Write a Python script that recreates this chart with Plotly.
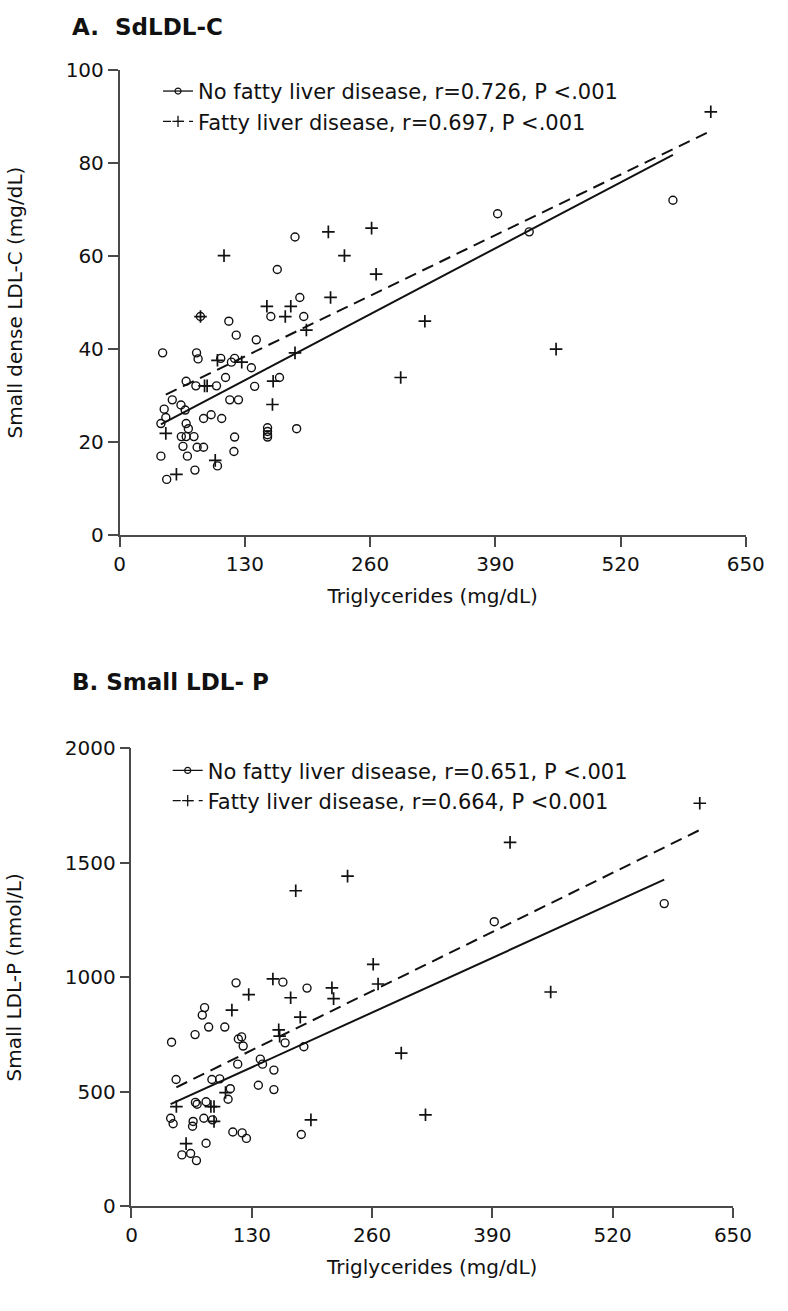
import plotly.graph_objects as go

# ---- data ----
tick_tg = [0, 130, 260, 390, 520, 650]
tick_sd = [0, 20, 40, 60, 80, 100]
tick_sp = [0, 500, 1000, 1500, 2000]

# A. SdLDL-C, no fatty liver disease (circles)
tg_a_no = [44.7, 79.9, 81.5, 105, 119.4, 116.1, 136.8, 69.1, 79.2, 100.6, 110, 140.2, 166,
           54.7, 63.7, 68.1, 46.3, 48, 42.9, 69.1, 71.4, 95, 87.2, 106, 114.4, 123.4,
           69.1, 64.1, 77.2, 65.8, 80.5, 87.2, 119.4, 42.9, 70.4, 118.7, 78.2, 101.6, 48.9,
           153.6, 153.6, 153.6, 153.6, 183.8, 182.1, 163.7, 187.1, 157, 191.2, 83.9, 113.4,
           121.1, 141.9, 392.4, 425.2, 574.4]
sd_a_no = [39.2, 39.2, 37.9, 38, 38, 37.2, 36, 33.1, 32.1, 32.1, 33.9, 32, 33.9,
           29.1, 28, 26.9, 27.1, 25.3, 24, 24, 22.9, 25.9, 25.1, 25.1, 29.1, 29.1,
           21.2, 21.2, 21.2, 19.1, 18.9, 18.9, 21.1, 17, 17, 18, 14, 14.9, 12,
           23.1, 22.3, 21.6, 21.1, 22.9, 64.1, 57.1, 51.1, 47, 47, 47, 46,
           43, 42, 69.1, 65.2, 72]

# A. SdLDL-C, fatty liver disease (crosses)
tg_a_fl = [182.1, 159.4, 158.7, 48, 88.2, 90.9, 99.3, 59, 101.6, 126.8, 216.7, 108.4, 233.4,
           219, 152.9, 177.7, 172, 193.9, 84, 613.7, 261.6, 266.3, 316.9, 291.8, 453.1]
sd_a_fl = [39.2, 33.1, 28.1, 21.9, 32.1, 32.1, 16.1, 13.1, 37.6, 37.2, 65.2, 60.1, 60.1,
           51.1, 49.2, 49.2, 47, 44.1, 47, 91, 66, 56.1, 46, 33.9, 40]

# B. Small LDL-P, no fatty liver disease (circles)
tg_b_no = [43.3, 48.2, 68.7, 76.5, 79, 83.4, 100.8, 113, 115.5, 119, 120.7, 163.6, 189.7, 166,
           186.3, 114.8, 139.2, 141.6, 153.9, 86.9, 95.3, 106.8, 104.4, 137.1, 153.9, 69.1,
           70.9, 80.6, 42.3, 45, 66.6, 66, 78.2, 87.6, 109.5, 119.6, 124.2, 80.6, 183.5,
           54.5, 63.9, 70.2, 392, 575.7]
sp_b_no = [717, 554, 750, 835, 868, 783, 783, 976, 731, 740, 700, 979, 953, 714,
           697, 621, 643, 621, 595, 554, 557, 514, 468, 529, 510, 454,
           446, 457, 385, 361, 371, 350, 385, 378, 325, 321, 297, 276, 314,
           225, 231, 200, 1243, 1322]

# B. Small LDL-P, fatty liver disease (crosses)
tg_b_fl = [177.5, 152.8, 126.7, 108.5, 172, 216.6, 218.4, 182.4, 159.1, 160.1, 261.2, 266.5,
           48.5, 85.8, 89.2, 89.2, 101.6, 59, 193.9, 614.1, 409.1, 453, 291.5, 317.7, 233.5]
sp_b_fl = [1378, 993, 925, 857, 911, 954, 907, 826, 771, 743, 1057, 971,
           436, 436, 436, 371, 497, 274, 378, 1760, 1589, 936, 669, 400, 1442]

# regression lines (intercept, slope) read from the plotted fits
fit_a_no = (19.15, 0.109)
fit_a_fl = (25.4, 0.1002)
fit_b_no = (368.6, 1.8375)
fit_b_fl = (423.7, 1.986)

leg_a = ["No fatty liver disease, r=0.726, P <.001", "Fatty liver disease, r=0.697, P <.001"]
leg_b = ["No fatty liver disease, r=0.651, P <.001", "Fatty liver disease, r=0.664, P <0.001"]

W, H = 788, 1311
FONT = "DejaVu Sans"
INK = "#111111"
AXC = "#4a4a4a"


def fit_line(xs, fit):
    x0, x1 = min(xs), max(xs)
    return [x0, x1], [fit[0] + fit[1] * x0, fit[0] + fit[1] * x1]


circle = dict(symbol="circle-open", size=8, color=INK, line=dict(width=1.4, color=INK))
cross = dict(symbol="cross-thin-open", size=9, color=INK, line=dict(width=1.7, color=INK))
solid = dict(color=INK, width=2)
dashed = dict(color=INK, width=2, dash="12px,7px")

fig = go.Figure()


def add_panel(xa, ya, legend, tg_no, v_no, fit_no, tg_fl, v_fl, fit_fl, labels):
    # points
    fig.add_trace(go.Scatter(x=tg_no, y=v_no, mode="markers", marker=circle,
                             xaxis=xa, yaxis=ya, showlegend=False))
    fig.add_trace(go.Scatter(x=tg_fl, y=v_fl, mode="markers", marker=cross,
                             xaxis=xa, yaxis=ya, showlegend=False))
    # fitted lines
    lx, ly = fit_line(tg_no, fit_no)
    fig.add_trace(go.Scatter(x=lx, y=ly, mode="lines", line=solid,
                             xaxis=xa, yaxis=ya, showlegend=False))
    lx, ly = fit_line(tg_fl, fit_fl)
    fig.add_trace(go.Scatter(x=lx, y=ly, mode="lines", line=dashed,
                             xaxis=xa, yaxis=ya, showlegend=False))
    # legend entries (line + marker)
    fig.add_trace(go.Scatter(x=[None], y=[None], mode="lines+markers", name=labels[0],
                             line=dict(color=INK, width=1.3),
                             marker=dict(symbol="circle-open", size=6, color=INK,
                                         line=dict(width=1.2, color=INK)),
                             xaxis=xa, yaxis=ya, legend=legend))
    fig.add_trace(go.Scatter(x=[None], y=[None], mode="lines+markers", name=labels[1],
                             line=dict(color=INK, width=1.3, dash="8px,5px"),
                             marker=dict(symbol="cross-thin-open", size=8, color=INK,
                                         line=dict(width=1.3, color=INK)),
                             xaxis=xa, yaxis=ya, legend=legend))


add_panel("x", "y", "legend", tg_a_no, sd_a_no, fit_a_no, tg_a_fl, sd_a_fl, fit_a_fl, leg_a)
add_panel("x2", "y2", "legend2", tg_b_no, sp_b_no, fit_b_no, tg_b_fl, sp_b_fl, fit_b_fl, leg_b)


def px_x(p):
    return p / W


def px_y(p):
    return (H - p) / H


axis_common = dict(showline=True, linecolor=AXC, linewidth=1.5, ticks="outside",
                   ticklen=10, tickwidth=1.5, tickcolor=AXC, showgrid=False,
                   zeroline=False, tickfont=dict(family=FONT, size=20, color=INK),
                   title_font=dict(family=FONT, size=20, color=INK))

fig.update_layout(
    width=W, height=H,
    margin=dict(l=0, r=0, t=0, b=0),
    paper_bgcolor="white", plot_bgcolor="white",
    font=dict(family=FONT, color=INK),
    xaxis=dict(axis_common, domain=[px_x(117.3), px_x(764)], range=[0, 650],
               tickvals=tick_tg, anchor="y",
               title=dict(text="Triglycerides (mg/dL)", standoff=14)),
    yaxis=dict(axis_common, domain=[px_y(533), px_y(59)], range=[0, 100],
               tickvals=tick_sd, anchor="x",
               title=dict(text="Small dense LDL-C (mg/dL)", standoff=38)),
    xaxis2=dict(axis_common, domain=[px_x(129.6), px_x(750.8)], range=[0, 650],
                tickvals=tick_tg, anchor="y2",
                title=dict(text="Triglycerides (mg/dL)", standoff=14)),
    yaxis2=dict(axis_common, domain=[px_y(1216.7), px_y(750)], range=[0, 2000],
                tickvals=tick_sp, anchor="x2",
                title=dict(text="Small LDL-P (nmol/L)", standoff=38)),
    legend=dict(x=px_x(157), y=px_y(60), xanchor="left", yanchor="top",
                font=dict(family=FONT, size=21, color=INK), bgcolor="rgba(0,0,0,0)",
                tracegroupgap=0, itemwidth=30),
    legend2=dict(x=px_x(167), y=px_y(752), xanchor="left", yanchor="top",
                 font=dict(family=FONT, size=21, color=INK), bgcolor="rgba(0,0,0,0)",
                 tracegroupgap=0, itemwidth=30),
    annotations=[
        dict(text="<b>A.\u00a0 SdLDL-C</b>", x=px_x(66), y=px_y(15), xref="paper", yref="paper",
             xanchor="left", yanchor="middle", showarrow=False,
             font=dict(family=FONT, size=23, color=INK)),
        dict(text="<b>B. Small LDL- P</b>", x=px_x(66), y=px_y(683), xref="paper", yref="paper",
             xanchor="left", yanchor="middle", showarrow=False,
             font=dict(family=FONT, size=23, color=INK)),
    ],
)

# page body has an 8px default margin; drop it so the figure sits at the window origin
fig.write_html("out.html", config={"displayModeBar": False},
               post_script="document.body.style.margin='0px';")
